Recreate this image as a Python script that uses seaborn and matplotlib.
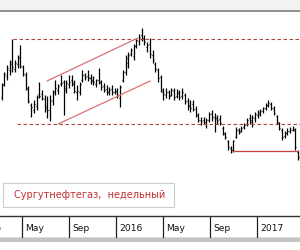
import matplotlib
matplotlib.use("Agg")
import matplotlib.pyplot as plt
import matplotlib.dates as mdates
from matplotlib.patches import Rectangle
import numpy as np
import pandas as pd
import seaborn as sns
import datetime as dt

# ---------------- data ----------------
first_week = "2015-03-09"
n_weeks = 111

highs = [36.7, 37.8, 38.5, 39.0, 41.1, 39.0, 39.5, 40.5, 38.5, 37.8,
         36.4, 34.7, 35.0, 35.5, 36.8, 36.0, 35.5, 35.4, 35.5, 36.0,
         37.0, 36.6, 37.5, 37.0, 37.0, 37.5, 37.5, 37.0, 36.5, 36.8,
         38.0, 37.7, 38.0, 37.6, 37.4, 37.1, 38.2, 37.0, 36.7, 36.5,
         36.3, 36.5, 36.2, 36.2, 36.5, 38.0, 39.5, 39.8, 40.2, 40.6,
         41.2, 41.6, 42.2, 41.5, 40.8, 41.2, 40.0, 38.8, 38.2, 37.5,
         36.2, 36.2, 36.0, 36.2, 36.2, 36.1, 36.0, 36.2, 35.7, 35.2,
         35.0, 35.0, 34.4, 33.7, 33.3, 33.3, 33.2, 33.8, 34.0, 33.7,
         33.5, 33.5, 32.4, 31.8, 31.0, 30.4, 31.0, 32.3, 32.2, 32.4,
         32.7, 33.2, 33.6, 33.5, 33.8, 34.0, 34.1, 34.3, 34.7, 35.0,
         34.8, 34.4, 33.5, 32.8, 32.2, 31.9, 32.2, 32.3, 32.4, 32.2,
         30.0]
lows = [35.0, 36.4, 37.0, 37.5, 37.8, 37.8, 38.2, 38.2, 37.4, 36.0,
        34.7, 33.3, 33.7, 34.0, 35.2, 35.0, 33.8, 33.2, 32.9, 34.5,
        35.5, 35.6, 36.4, 33.5, 35.7, 36.2, 36.4, 35.7, 35.0, 35.5,
        36.8, 37.0, 36.9, 36.6, 36.5, 36.3, 36.6, 36.0, 35.8, 35.5,
        35.5, 35.5, 35.6, 35.2, 34.3, 36.8, 37.5, 38.2, 39.4, 39.0,
        40.2, 40.5, 40.9, 40.5, 39.8, 39.2, 38.7, 37.8, 36.8, 35.8,
        35.0, 35.2, 35.1, 35.4, 35.0, 35.2, 35.0, 35.1, 34.6, 34.0,
        33.8, 33.9, 33.3, 32.8, 32.5, 32.6, 32.2, 32.8, 32.9, 31.8,
        32.6, 32.5, 31.5, 31.1, 30.0, 29.7, 29.8, 31.2, 31.6, 31.8,
        32.1, 32.4, 32.6, 32.3, 32.8, 33.2, 33.4, 33.7, 34.0, 34.3,
        34.0, 33.5, 32.6, 32.0, 31.0, 31.2, 31.5, 31.7, 31.9, 30.0,
        29.0]
opens = [35.3, 36.6, 37.4, 38.0, 38.6, 38.1, 38.6, 39.3, 38.3, 37.5,
         36.1, 34.5, 34.0, 34.4, 35.6, 35.6, 35.1, 34.4, 34.0, 34.9,
         35.8, 36.0, 36.6, 36.8, 36.0, 36.6, 37.0, 36.7, 35.8, 35.8,
         37.0, 37.5, 37.4, 37.2, 37.0, 36.6, 37.0, 36.8, 36.4, 36.1,
         35.8, 36.1, 35.8, 35.9, 35.2, 37.0, 37.8, 38.7, 39.6, 39.4,
         40.4, 40.9, 41.5, 41.2, 40.3, 40.6, 39.5, 38.6, 38.0, 37.3,
         35.8, 35.5, 35.8, 35.5, 35.9, 35.4, 35.7, 35.4, 35.5, 34.9,
         34.5, 34.6, 34.1, 33.5, 33.0, 33.0, 32.6, 33.0, 33.6, 33.3,
         33.2, 33.1, 32.2, 31.6, 30.9, 30.2, 30.0, 31.3, 32.0, 31.9,
         32.3, 32.6, 33.2, 32.8, 33.2, 33.5, 33.6, 33.9, 34.2, 34.5,
         34.6, 34.2, 33.4, 32.7, 32.0, 31.4, 31.7, 31.9, 32.0, 32.0,
         29.8]
closes = [36.5, 37.6, 38.2, 38.8, 38.3, 38.7, 39.2, 38.4, 37.6, 36.2,
          34.9, 34.3, 34.6, 35.3, 35.4, 35.2, 34.2, 34.0, 35.0, 35.8,
          36.2, 36.4, 36.7, 36.2, 36.7, 36.8, 36.6, 35.9, 35.9, 36.6,
          37.5, 37.3, 37.3, 36.9, 36.8, 37.0, 36.8, 36.3, 36.0, 35.8,
          36.0, 35.8, 35.9, 35.4, 36.3, 37.8, 39.2, 39.5, 40.0, 40.4,
          41.0, 41.3, 41.1, 40.8, 40.5, 39.6, 39.0, 38.1, 37.2, 36.0,
          35.6, 35.8, 35.4, 36.0, 35.3, 35.8, 35.3, 35.8, 34.9, 34.4,
          34.2, 34.1, 33.5, 33.0, 32.9, 32.8, 33.0, 33.6, 33.3, 33.2,
          33.0, 32.7, 31.7, 31.3, 30.3, 30.0, 30.9, 32.0, 31.8, 32.2,
          32.5, 33.0, 33.0, 33.3, 33.6, 33.8, 33.9, 34.2, 34.5, 34.7,
          34.2, 33.7, 32.8, 32.2, 31.3, 31.7, 31.9, 32.0, 32.1, 30.3,
          29.3]

# horizontal levels (price, start date) - drawn to right edge
level_prices = [41.1, 32.6]
level_starts = ["2015-04-08", "2015-04-18"]
# channel lines (start date, start price, end date, end price)
chan_dates = [("2015-07-05", "2016-02-26"), ("2015-08-03", "2016-03-29")]
chan_prices = [(36.9, 41.2), (32.6, 36.9)]
# support line
support_price = 29.9
support_dates = ("2016-10-30", "2017-04-17")

sep_dates = ["2015-01-01", "2015-05-01", "2015-09-01", "2016-01-01",
             "2016-05-01", "2016-09-01", "2017-01-01"]
sep_labels = ["2015", "May", "Sep", "2016", "May", "Sep", "2017"]

title_text = "Сургутнефтегаз,  недельный"

# ---------------- figure ----------------
sns.set_style("white")
plt.rcParams['font.family'] = ['DejaVu Sans']

W, H = 300, 250
fig = plt.figure(figsize=(3, 2.5), dpi=100)
fig.patch.set_facecolor("white")

def fy(py):
    return (H - py) / H

ax = fig.add_axes([0, fy(216), 1, (216 - 11) / H])
ax.set_facecolor("white")
for s in ax.spines.values():
    s.set_visible(False)

dates = pd.date_range(first_week, periods=n_weeks, freq="7D")
x = mdates.date2num(dates)
df = pd.DataFrame({"x": x, "high": highs, "low": lows, "open": opens, "close": closes})

xmin = mdates.date2num(pd.Timestamp("2015-03-05"))
xmax = mdates.date2num(pd.Timestamp("2017-04-22"))
ax.set_xlim(xmin, xmax)
ax.set_ylim(23.4, 43.9)

tick = 2.6
ax.vlines(df["x"], df["low"], df["high"], color="black", lw=0.9)
ax.hlines(df["open"], df["x"] - tick, df["x"], color="black", lw=0.9)
ax.hlines(df["close"], df["x"], df["x"] + tick, color="black", lw=0.9)

dash_col = "#a84848"
for p, s in zip(level_prices, level_starts):
    ldf = pd.DataFrame({"x": [mdates.date2num(pd.Timestamp(s)), xmax], "y": [p, p]})
    sns.lineplot(data=ldf, x="x", y="y", ax=ax, color=dash_col, lw=0.8,
                 linestyle=(0, (3.2, 2.2)), estimator=None, sort=False)

for (d1, d2), (p1, p2) in zip(chan_dates, chan_prices):
    cdf = pd.DataFrame({"x": [mdates.date2num(pd.Timestamp(d1)), mdates.date2num(pd.Timestamp(d2))],
                        "y": [p1, p2]})
    sns.lineplot(data=cdf, x="x", y="y", ax=ax, color="#dc7070", lw=0.9,
                 estimator=None, sort=False)

sdf = pd.DataFrame({"x": [mdates.date2num(pd.Timestamp(d)) for d in support_dates],
                    "y": [support_price, support_price]})
sns.lineplot(data=sdf, x="x", y="y", ax=ax, color="#c84040", lw=0.9,
             estimator=None, sort=False)

ax.set_xticks([]); ax.set_yticks([])
ax.set_xlabel(""); ax.set_ylabel("")

# time axis band
tax = fig.add_axes([0, fy(238), 1, (238 - 216) / H], sharex=ax)
tax.set_facecolor("white")
tax.set_ylim(0, 1)
for s in ["left", "right"]:
    tax.spines[s].set_visible(False)
tax.spines["top"].set_color("#303030")
tax.spines["bottom"].set_color("#404040")
tax.spines["top"].set_linewidth(1.0)
tax.spines["bottom"].set_linewidth(1.0)
tax.set_xticks([]); tax.set_yticks([])
off = 3 / 0.385 * 1.0
for d, lab in zip(sep_dates, sep_labels):
    xd = mdates.date2num(pd.Timestamp(d))
    tax.axvline(xd, color="#202020", lw=0.9)
    tax.text(xd + off, 0.42, lab, fontsize=6.6, color="#111111",
             ha="left", va="center")
tax.set_xlim(xmin, xmax)

# top gray band and border
fig.patches.append(Rectangle((0, fy(10)), 1, 10 / H, transform=fig.transFigure,
                             facecolor="#f2f2f2", edgecolor="none", zorder=0))
fig.lines.append(plt.Line2D([0, 1], [fy(10.5), fy(10.5)], transform=fig.transFigure,
                            color="#858585", lw=1.3))
# bottom shadow
fig.patches.append(Rectangle((0, fy(242)), 1, 4 / H, transform=fig.transFigure,
                             facecolor="#c4c4c4", edgecolor="none", zorder=0))

# legend/title box
fig.patches.append(Rectangle((3 / W, fy(207)), 171 / W, 24 / H, transform=fig.transFigure,
                             facecolor="white", edgecolor="#cccccc", lw=0.8, zorder=5))
fig.text(14 / W, fy(195), title_text, fontsize=7.0, color="#c03030",
         ha="left", va="center", zorder=6)

fig.savefig("out.png", dpi=100)
